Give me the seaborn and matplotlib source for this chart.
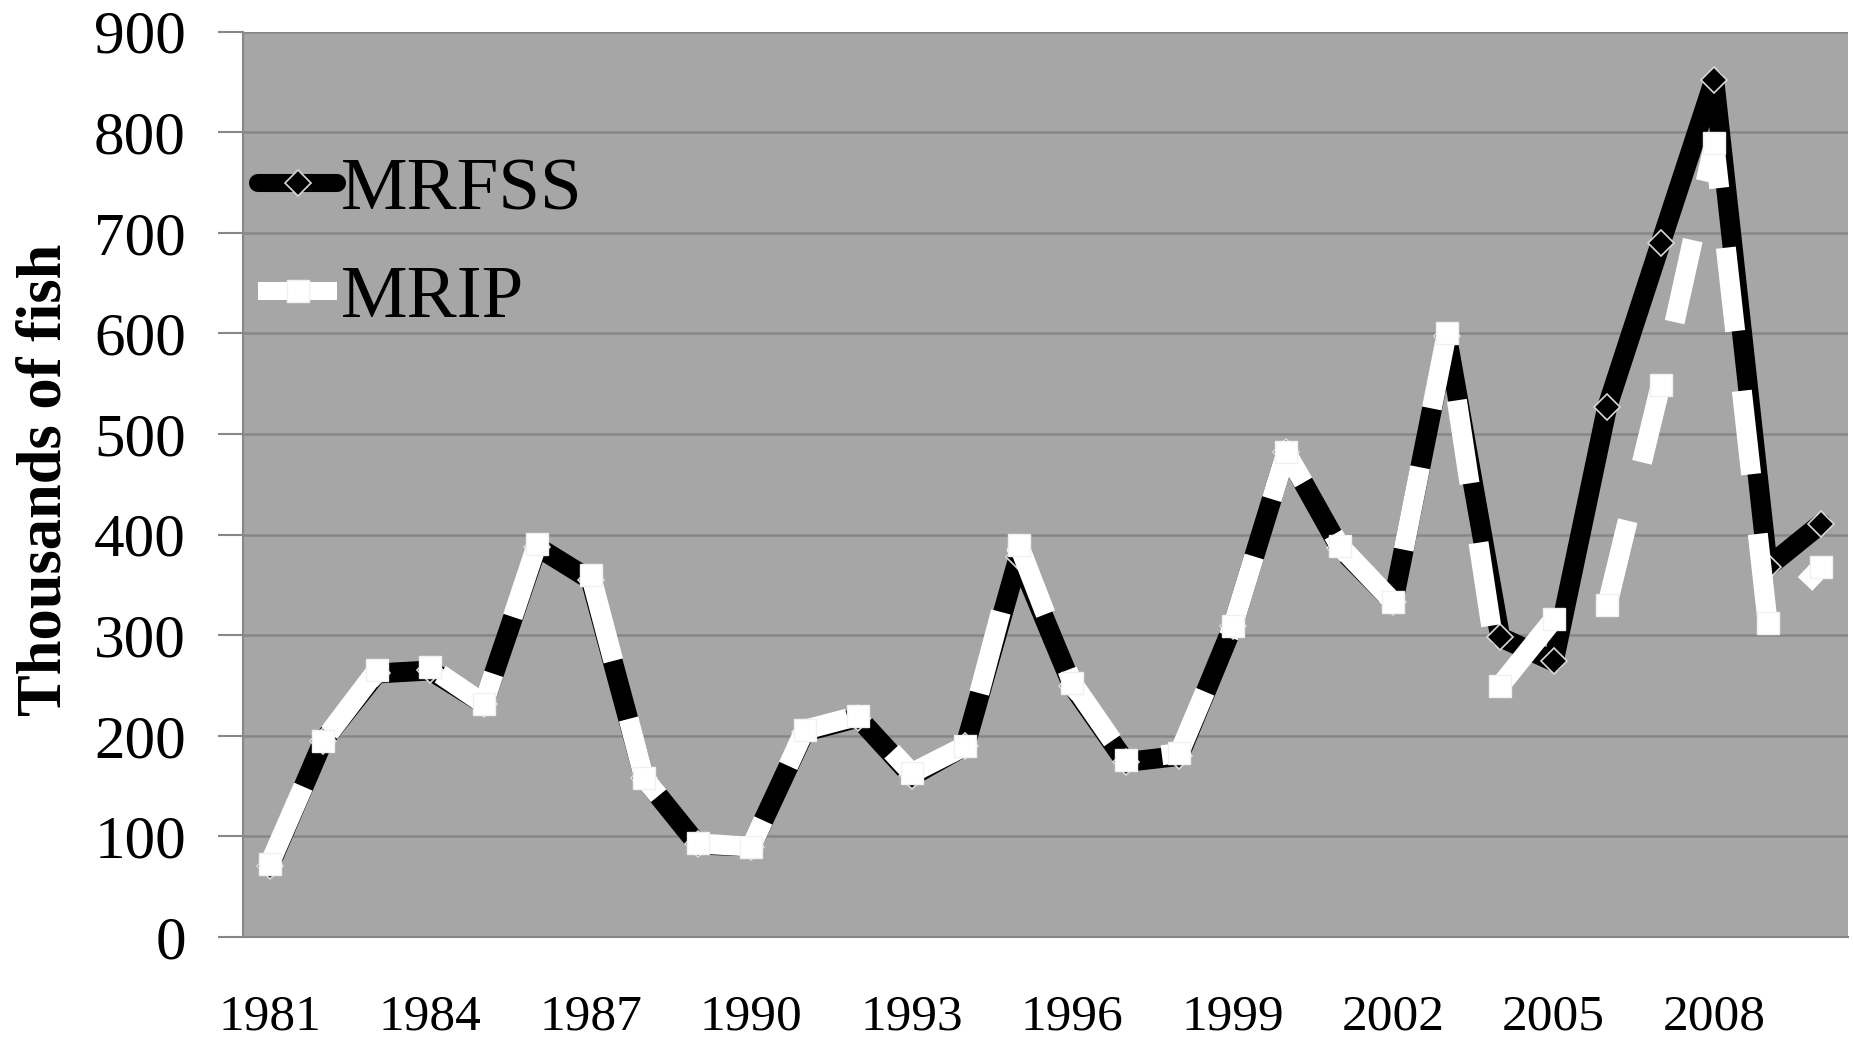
import matplotlib
matplotlib.use("Agg")
import matplotlib.pyplot as plt
from matplotlib.lines import Line2D
from matplotlib.ticker import FixedLocator
import pandas as pd
import seaborn as sns

years = list(range(1981, 2011))
mrfss = [71, 195, 262, 265, 232, 388, 355, 158, 92, 90,
         204, 218, 160, 190, 378, 250, 174, 180, 309, 482,
         387, 333, 598, 298, 274, 527, 690, 852, 368, 411]
mrip = [73, 195, 265, 268, 232, 391, 360, 158, 93, 90,
        206, 220, 163, 190, 390, 253, 176, 183, 309, 482,
        389, 333, 600, 250, 316, 330, 549, 789, 312, 368]
label_years = list(range(1981, 2011, 3))
y_ticks = list(range(0, 901, 100))

df = pd.DataFrame({"year": years, "MRFSS": mrfss, "MRIP": mrip})

sns.set_style("white")
plt.rcParams["font.family"] = ["Liberation Serif", "DejaVu Serif"]
plt.rcParams["text.color"] = "black"
plt.rcParams["axes.labelcolor"] = "black"

grid_col = "#878787"
fig = plt.figure(figsize=(18.53, 10.37), dpi=100)
ax = fig.add_axes([0.1311, 0.0964, 0.8662, 0.873])
ax.set_facecolor("#a6a6a6")

# MRFSS: thick black solid line with diamonds
sns.lineplot(data=df, x="year", y="MRFSS", ax=ax, color="black", linewidth=14.4,
             marker="D", markersize=13, markerfacecolor="black",
             markeredgecolor="#d8d8d8", markeredgewidth=1.2,
             solid_joinstyle="round", solid_capstyle="round", zorder=3)
# MRIP: thick white dashed line with squares
sns.lineplot(data=df, x="year", y="MRIP", ax=ax, color="white", linewidth=14.4,
             linestyle=(0, (4.2, 3.0)), marker="s", markersize=16,
             markerfacecolor="white", markeredgecolor="#f0f0f0",
             markeredgewidth=1, dash_capstyle="butt", zorder=4)

ax.set_xlim(1980.5, 2010.5)
ax.set_ylim(0, 900)
ax.set_yticks(y_ticks)
ax.set_yticklabels([str(v) for v in y_ticks], fontsize=44)
ax.set_xticks(label_years)
ax.set_xticklabels([str(y) for y in label_years], fontsize=37)
ax.xaxis.set_minor_locator(FixedLocator([y - 0.5 for y in years] + [2010.5]))
ax.tick_params(axis="x", which="major", length=0, pad=41, labelcolor="black")
ax.tick_params(axis="x", which="minor", length=15, width=1.5, color=grid_col, direction="out")
ax.tick_params(axis="y", which="major", length=18, width=1.5, color=grid_col,
               direction="out", pad=23, left=True, labelcolor="black")
ax.grid(axis="y", color=grid_col, linewidth=1.8)
ax.set_axisbelow(True)

for side in ["top", "right"]:
    ax.spines[side].set_visible(False)
for side in ["left", "bottom"]:
    ax.spines[side].set_color(grid_col)
    ax.spines[side].set_linewidth(1.5)

ax.set_xlabel("")
ax.set_ylabel("Thousands of fish", fontsize=45, fontweight="bold", color="black")
ax.yaxis.set_label_coords(-0.105, 0.505)

handles = [
    Line2D([], [], color="black", linewidth=13, solid_capstyle="round",
           marker="D", markersize=13, markerfacecolor="black",
           markeredgecolor="#d8d8d8", markeredgewidth=1.2),
    Line2D([], [], color="white", linewidth=13, solid_capstyle="butt",
           marker="s", markersize=16, markerfacecolor="white",
           markeredgecolor="#f0f0f0"),
]
ax.legend(handles, ["MRFSS", "MRIP"], loc="upper left", bbox_to_anchor=(-0.009, 0.895),
          fontsize=54, frameon=False, handlelength=1.05, handletextpad=0.05,
          labelspacing=0.52, borderaxespad=0, labelcolor="black")

fig.savefig("out.png", dpi=100)
